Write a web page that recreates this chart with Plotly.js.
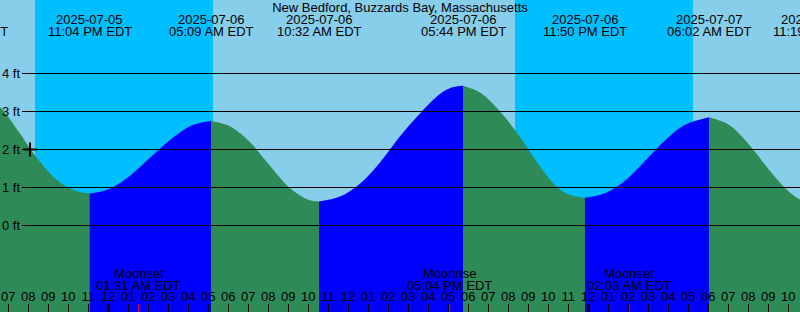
<!DOCTYPE html>
<html>
<head>
<meta charset="utf-8">
<script src="https://cdn.plot.ly/plotly-3.0.1.min.js"></script>
<style>
  html, body { margin: 0; padding: 0; background: #87CEEB; }
  #chart { width: 800px; height: 312px; }
</style>
</head>
<body>
<div id="chart"></div>
<script>
// ---------------- data ----------------
const chartTitle = 'New Bedford, Buzzards Bay, Massachusetts';
const xStart = '2025-07-05 18:35';
const xEnd = '2025-07-07 10:35';

const tideTimes = [
  '2025-07-05 16:50', '2025-07-05 17:50', '2025-07-05 18:35', '2025-07-05 19:35',
  '2025-07-05 20:05', '2025-07-05 20:35', '2025-07-05 21:05', '2025-07-05 21:35',
  '2025-07-05 22:05', '2025-07-05 22:35', '2025-07-05 23:04',
  '2025-07-06 00:05', '2025-07-06 01:05', '2025-07-06 02:05', '2025-07-06 03:05',
  '2025-07-06 04:05', '2025-07-06 04:40', '2025-07-06 05:09',
  '2025-07-06 06:05', '2025-07-06 07:05', '2025-07-06 08:05', '2025-07-06 09:05',
  '2025-07-06 10:00', '2025-07-06 10:32',
  '2025-07-06 11:35', '2025-07-06 12:35', '2025-07-06 13:35', '2025-07-06 14:35',
  '2025-07-06 15:35', '2025-07-06 16:35', '2025-07-06 17:10', '2025-07-06 17:44',
  '2025-07-06 18:35', '2025-07-06 19:35', '2025-07-06 20:35', '2025-07-06 21:35',
  '2025-07-06 22:25', '2025-07-06 23:05', '2025-07-06 23:50',
  '2025-07-07 00:50', '2025-07-07 01:50', '2025-07-07 02:50', '2025-07-07 03:50',
  '2025-07-07 04:50', '2025-07-07 06:02',
  '2025-07-07 07:02', '2025-07-07 08:02', '2025-07-07 09:02', '2025-07-07 10:02',
  '2025-07-07 10:50', '2025-07-07 11:19'
];
const tideHeights = [
  3.60, 3.42, 3.12, 2.42,
  2.02, 1.68, 1.37, 1.13,
  0.98, 0.88, 0.84,
  0.97, 1.31, 1.78, 2.25,
  2.61, 2.71, 2.75,
  2.61, 2.19, 1.57, 0.98,
  0.68, 0.63,
  0.76, 1.10, 1.66, 2.35,
  2.95, 3.46, 3.63, 3.68,
  3.50, 3.00, 2.33, 1.55,
  1.02, 0.80, 0.73,
  0.85, 1.18, 1.70, 2.24,
  2.65, 2.85,
  2.65, 2.13, 1.47, 0.89,
  0.62, 0.57
];

const extremeTimes = [
  '2025-07-05 16:50', '2025-07-05 23:04', '2025-07-06 05:09', '2025-07-06 10:32',
  '2025-07-06 17:44', '2025-07-06 23:50', '2025-07-07 06:02', '2025-07-07 11:19'
];
const extremeDates = [
  '2025-07-05', '2025-07-05', '2025-07-06', '2025-07-06',
  '2025-07-06', '2025-07-06', '2025-07-07', '2025-07-07'
];
const extremeClock = [
  '04:50 PM EDT', '11:04 PM EDT', '05:09 AM EDT', '10:32 AM EDT',
  '05:44 PM EDT', '11:50 PM EDT', '06:02 AM EDT', '11:19 AM EDT'
];

const sunsetTimes = ['2025-07-05 20:20', '2025-07-06 20:20'];
const sunriseTimes = ['2025-07-06 05:14', '2025-07-07 05:14'];

const moonTimes = ['2025-07-06 01:31', '2025-07-06 17:04', '2025-07-07 02:03'];
const moonEvents = ['Moonset', 'Moonrise', 'Moonset'];
const moonClock = ['01:31 AM EDT', '05:04 PM EDT', '02:03 AM EDT'];

const midnightTimes = ['2025-07-06 00:00', '2025-07-07 00:00'];

const nowTime = '2025-07-05 20:05';
const nowHeight = 2.0;

const heightTicks = [0, 1, 2, 3, 4];
const heightUnit = 'ft';

// ---------------- style ----------------
const W = 800, H = 312;
const FONT = 'Liberation Sans, Arial, sans-serif';
const DAY = '#87CEEB', NIGHT = '#00BFFF', FLOOD = '#0000FF', EBB = '#2E8B57';
const yRange = [-2.276, 5.934];
const FLOOR = -5;

const ms = s => Date.parse(s.replace(' ', 'T'));
const frac = s => (ms(s) - ms(xStart)) / (ms(xEnd) - ms(xStart));
const ypx = px => 1 - px / H;

// ---------------- traces ----------------
const traces = [];
const cuts = extremeTimes.map(t => tideTimes.indexOf(t)).filter(i => i >= 0);
for (let k = 0; k < cuts.length - 1; k++) {
  const a = cuts[k], b = cuts[k + 1];
  const xs = tideTimes.slice(a, b + 1), ys = tideHeights.slice(a, b + 1);
  const rising = ys[ys.length - 1] > ys[0];
  traces.push({
    x: [xs[0], xs[xs.length - 1]], y: [FLOOR, FLOOR],
    mode: 'lines', line: { width: 0 }, hoverinfo: 'skip', showlegend: false
  });
  traces.push({
    x: xs, y: ys, mode: 'lines',
    line: { width: 0, shape: 'spline', smoothing: 1 },
    fill: 'tonexty', fillcolor: rising ? FLOOD : EBB,
    hoverinfo: 'skip', showlegend: false
  });
}
traces.push({
  x: [nowTime], y: [nowHeight], mode: 'markers',
  marker: { symbol: 'cross-thin', size: 10, line: { width: 2, color: 'black' } },
  hoverinfo: 'skip', showlegend: false
});

// ---------------- shapes ----------------
const shapes = [];
sunsetTimes.forEach((s, i) => shapes.push({
  type: 'rect', layer: 'below', xref: 'x', yref: 'paper',
  x0: s, x1: sunriseTimes[i], y0: 0, y1: 1,
  fillcolor: NIGHT, line: { width: 0 }
}));
heightTicks.forEach(v => shapes.push({
  type: 'line', xref: 'paper', yref: 'y', x0: 22 / W, x1: 1, y0: v, y1: v,
  line: { color: 'black', width: 1 }
}));
midnightTimes.forEach(t => shapes.push({
  type: 'line', xref: 'x', yref: 'paper', x0: t, x1: t, y0: 0, y1: 8 / H,
  line: { color: 'black', width: 3 }
}));
moonTimes.forEach(t => shapes.push({
  type: 'line', xref: 'x', yref: 'paper', x0: t, x1: t, y0: 0, y1: 8 / H,
  line: { color: 'red', width: 1 }
}));

// ---------------- annotations ----------------
const annotations = [];
const txt = (extra) => Object.assign({
  showarrow: false, font: { family: FONT, size: 13, color: 'black' },
  xanchor: 'center', yanchor: 'middle', yref: 'paper'
}, extra);

extremeTimes.forEach((t, i) => {
  const f = frac(t);
  const inside = f >= 0 && f <= 1;
  const xpos = inside ? { xref: 'x', x: t } : { xref: 'paper', x: f };
  annotations.push(txt(Object.assign({ text: extremeDates[i], y: ypx(19.5) }, xpos)));
  annotations.push(txt(Object.assign({ text: extremeClock[i], y: ypx(31.2) }, xpos)));
});
moonTimes.forEach((t, i) => {
  annotations.push(txt({ xref: 'x', x: t, text: moonEvents[i], y: ypx(273.8) }));
  annotations.push(txt({ xref: 'x', x: t, text: moonClock[i], y: ypx(285.5) }));
});
heightTicks.forEach(v => annotations.push(txt({
  xref: 'paper', x: 0, xanchor: 'left', yref: 'y', y: v, text: v + ' ' + heightUnit
})));

// ---------------- layout ----------------
const layout = {
  width: W, height: H,
  margin: { l: 0, r: 0, t: 0, b: 0, pad: 0 },
  paper_bgcolor: DAY, plot_bgcolor: DAY,
  showlegend: false, hovermode: false,
  title: {
    text: chartTitle, font: { family: FONT, size: 13, color: 'black' },
    x: 0.5, xanchor: 'center', xref: 'paper',
    y: ypx(7.8), yanchor: 'middle', yref: 'container'
  },
  xaxis: {
    type: 'date', range: [xStart, xEnd], fixedrange: true,
    tickmode: 'linear', tick0: '2025-07-05 19:00', dtick: 3600000,
    tickformat: '%I', ticks: 'inside', ticklen: 8, tickwidth: 1, tickcolor: 'black',
    ticklabelposition: 'inside',
    tickfont: { family: FONT, size: 13, color: 'black' },
    showgrid: false, zeroline: false, showline: false
  },
  yaxis: {
    range: yRange, fixedrange: true, visible: false,
    showgrid: false, zeroline: false
  },
  shapes: shapes,
  annotations: annotations
};

Plotly.newPlot('chart', traces, layout, { staticPlot: true, displayModeBar: false });
</script>
</body>
</html>
